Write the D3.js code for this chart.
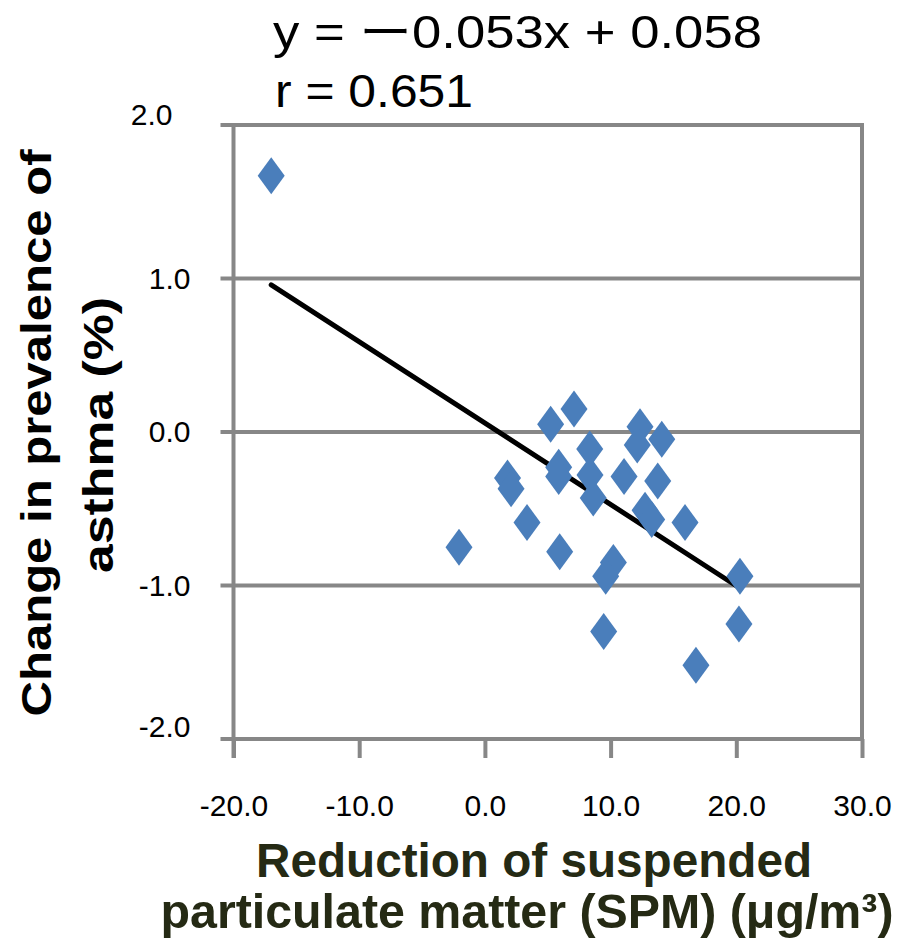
<!DOCTYPE html>
<html>
<head>
<meta charset="utf-8">
<script src="https://cdn.jsdelivr.net/npm/d3@7"></script>
<style>
  html, body { margin: 0; padding: 0; background: #ffffff; }
  svg { display: block; font-family: "Liberation Sans", Arial, "Noto Sans CJK JP", sans-serif; }
</style>
</head>
<body>
<svg id="chart" width="913" height="942"></svg>
<script>
// ---- data ----
const spmReduction = [-17.0, -2.06, 1.80, 2.08, 3.35, 5.23, 7.09, 5.87, 5.87, 5.95,
  8.34, 8.36, 8.62, 11.07, 12.34, 12.12, 14.07, 13.75, 12.74, 13.27,
  15.92, 10.22, 9.61, 9.45, 16.79, 20.29, 20.21];
const asthmaChange = [1.67, -0.75, -0.30, -0.37, -0.59, 0.05, 0.15, -0.23, -0.29, -0.78,
  -0.11, -0.28, -0.43, -0.29, 0.035, -0.085, -0.048, -0.32, -0.51, -0.57,
  -0.59, -0.85, -0.94, -1.30, -1.52, -0.94, -1.25];
const xTicks = [-20, -10, 0, 10, 20, 30];
const yTicks = [2, 1, 0, -1, -2];
const trendSlope = -0.053;
const trendIntercept = 0.058;
const trendRange = [-17.0, 20.3];
const equationLines = ["y = \u30FC0.053x + 0.058", "r = 0.651"];
const yTitleLines = ["Change in prevalence of", "asthma (%)"];
const xTitleLines = ["Reduction of suspended", "particulate matter (SPM) (\u03BCg/m\u00B3)"];

// ---- layout ----
const svg = d3.select("#chart");
const plot = { left: 233.5, right: 862, top: 125, bottom: 739 };
const gridColor = "#878787";
const gridWidth = 4;
const fmt = d => d.toFixed(1);

const x = d3.scaleLinear().domain([-20, 30]).range([plot.left, plot.right]);
const y = d3.scaleLinear().domain([-2, 2]).range([plot.bottom, plot.top]);

// horizontal gridlines (including top and bottom border), extend left as tick
svg.append("g").selectAll("line").data(yTicks).join("line")
  .attr("x1", plot.left - 13).attr("x2", plot.right)
  .attr("y1", d => y(d)).attr("y2", d => y(d))
  .attr("stroke", gridColor).attr("stroke-width", gridWidth);

// right border
svg.append("line")
  .attr("x1", plot.right).attr("x2", plot.right)
  .attr("y1", plot.top - gridWidth / 2).attr("y2", plot.bottom)
  .attr("stroke", gridColor).attr("stroke-width", gridWidth);

function styleTickText(sel) {
  sel.attr("font-size", 30).attr("fill", "#000")
    .attr("font-family", "'Liberation Sans', Arial, sans-serif");
}

// x axis
const xAxis = d3.axisBottom(x).tickValues(xTicks).tickSize(19).tickSizeOuter(0)
  .tickPadding(37).tickFormat(fmt);
const gx = svg.append("g").attr("transform", `translate(0,${plot.bottom})`).call(xAxis);
gx.select(".domain").remove();
gx.selectAll(".tick line").attr("stroke", gridColor).attr("stroke-width", gridWidth);
gx.selectAll(".tick text").call(styleTickText);

// y axis
const yAxis = d3.axisLeft(y).tickValues(yTicks).tickSize(0).tickSizeOuter(0)
  .tickPadding(43).tickFormat(fmt);
const gy = svg.append("g").attr("transform", `translate(${plot.left},0)`).call(yAxis);
gy.select(".domain").attr("stroke", gridColor).attr("stroke-width", gridWidth)
  .attr("d", `M0,${plot.top - gridWidth / 2}V${plot.bottom + 19}`);
gy.selectAll(".tick text").call(styleTickText);
// first and last labels sit slightly off, as in the reference
gy.selectAll(".tick").filter(d => d === 2).select("text").attr("transform", "translate(-18,-10)");
gy.selectAll(".tick").filter(d => d === -2).select("text").attr("transform", "translate(0,-12)");

// trend line
const trendData = trendRange.map(v => ({ x: v, y: trendSlope * v + trendIntercept }));
svg.append("path")
  .datum(trendData)
  .attr("d", d3.line().x(d => x(d.x)).y(d => y(d.y)))
  .attr("stroke", "#000").attr("stroke-width", 5).attr("fill", "none")
  .attr("stroke-linecap", "round");

// diamonds
const points = spmReduction.map((v, i) => ({ x: v, y: asthmaChange[i] }));
const hw = 13.5, hh = 18.5;
svg.append("g").selectAll("path").data(points).join("path")
  .attr("d", `M0,${-hh}L${hw},0L0,${hh}L${-hw},0Z`)
  .attr("transform", d => `translate(${x(d.x)},${y(d.y)})`)
  .attr("fill", "#4a7ebb");

// equation text
const eq = svg.append("g").attr("font-size", 46).attr("fill", "#000");
eq.append("text").attr("x", 273).attr("y", 48).text(equationLines[0])
  .attr("textLength", 489).attr("lengthAdjust", "spacingAndGlyphs");
eq.append("text").attr("x", 275).attr("y", 107).text(equationLines[1])
  .attr("textLength", 198).attr("lengthAdjust", "spacingAndGlyphs");

// y title
const yT = svg.append("g").attr("font-size", 43).attr("font-weight", "bold").attr("fill", "#000")
  .attr("text-anchor", "middle");
yT.append("text").attr("transform", "translate(51,433) rotate(-90)").text(yTitleLines[0])
  .attr("textLength", 567).attr("lengthAdjust", "spacingAndGlyphs");
yT.append("text").attr("transform", "translate(113,435) rotate(-90)").text(yTitleLines[1])
  .attr("textLength", 276).attr("lengthAdjust", "spacingAndGlyphs");

// x title
const xT = svg.append("g").attr("font-size", 48).attr("font-weight", "bold").attr("fill", "#252a14")
  .attr("text-anchor", "middle");
xT.append("text").attr("x", 534).attr("y", 877).text(xTitleLines[0])
  .attr("textLength", 556).attr("lengthAdjust", "spacingAndGlyphs");
xT.append("text").attr("x", 527).attr("y", 928).text(xTitleLines[1])
  .attr("textLength", 733).attr("lengthAdjust", "spacingAndGlyphs");
</script>
</body>
</html>
